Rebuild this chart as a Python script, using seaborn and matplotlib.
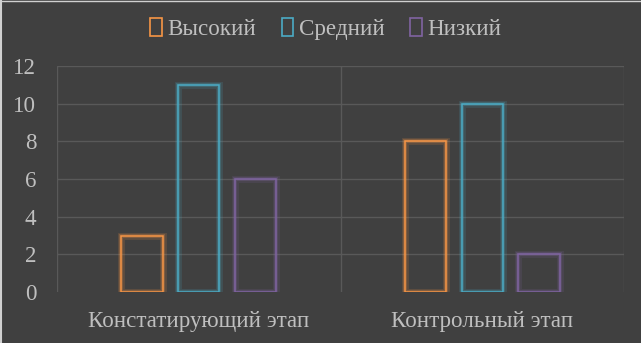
import matplotlib
matplotlib.use("Agg")
import matplotlib.pyplot as plt
from matplotlib.patches import Patch
from matplotlib.lines import Line2D
import matplotlib.patheffects as pe
import seaborn as sns
import pandas as pd

categories = ["Констатирующий этап", "Контрольный этап"]
levels = ["Высокий", "Средний", "Низкий"]
high = [3, 8]
mid = [11, 10]
low = [6, 2]
colors = ["#f79646", "#4bacc6", "#8064a2"]

df = pd.DataFrame({
    "stage": categories * 3,
    "level": [levels[0]] * 2 + [levels[1]] * 2 + [levels[2]] * 2,
    "value": high + mid + low,
})

sns.set_theme(style="dark")
plt.rcParams['font.family'] = ['Liberation Serif', 'DejaVu Serif']
bg = "#404040"
txt = "#bfbfbf"
grid = "#595959"
fs = 16.6

fig = plt.figure(figsize=(6.41, 3.43), dpi=100, facecolor=bg)
ax = fig.add_axes([57/641, 51/343, (624-57)/641, (292-66)/343])
ax.set_facecolor(bg)

sns.barplot(data=df, x="stage", y="value", hue="level", order=categories,
            hue_order=levels, palette=colors, fill=False, width=0.6, gap=0.27,
            linewidth=1.1, ax=ax, legend=False)

for p in ax.patches:
    ec = p.get_edgecolor()
    p.set_path_effects([pe.Stroke(linewidth=5, foreground=ec, alpha=0.15),
                        pe.Stroke(linewidth=3, foreground=ec, alpha=0.25),
                        pe.Normal()])

ax.set_xlim(-0.5, 1.5)
ax.set_ylim(0, 12)
ax.set_yticks(range(0, 13, 2))
for y in range(2, 13, 2):
    ax.axhline(y, color=grid, lw=1, zorder=0)
for x in [-0.5, 0.5, 1.5]:
    ax.axvline(x, color=grid, lw=1, zorder=0)
ax.grid(False)
for s in ax.spines.values():
    s.set_visible(False)
ax.tick_params(axis="y", colors=txt, labelsize=fs, length=0, pad=15)
ax.tick_params(axis="x", colors=txt, labelsize=fs, length=0, pad=14)
ax.set_xlabel("")
ax.set_ylabel("")

handles = [Patch(facecolor="none", edgecolor=c, lw=1.2) for c in colors]
leg = fig.legend(handles, levels, loc="center", bbox_to_anchor=(326/641, 1 - 29/343),
                 ncol=3, frameon=False, fontsize=fs, handlelength=0.5, handleheight=0.8,
                 handletextpad=0.25, columnspacing=1.1)
for t in leg.get_texts():
    t.set_color(txt)

# thin light border at left and top edge like the reference screenshot
fig.add_artist(Line2D([1/641, 1/641], [0, 1], transform=fig.transFigure, color="#d0d0d0", lw=1.5))
fig.add_artist(Line2D([0, 1], [1 - 0.5/343, 1 - 0.5/343], transform=fig.transFigure, color="#d0d0d0", lw=1))

fig.savefig("out.png", dpi=100, facecolor=bg)
